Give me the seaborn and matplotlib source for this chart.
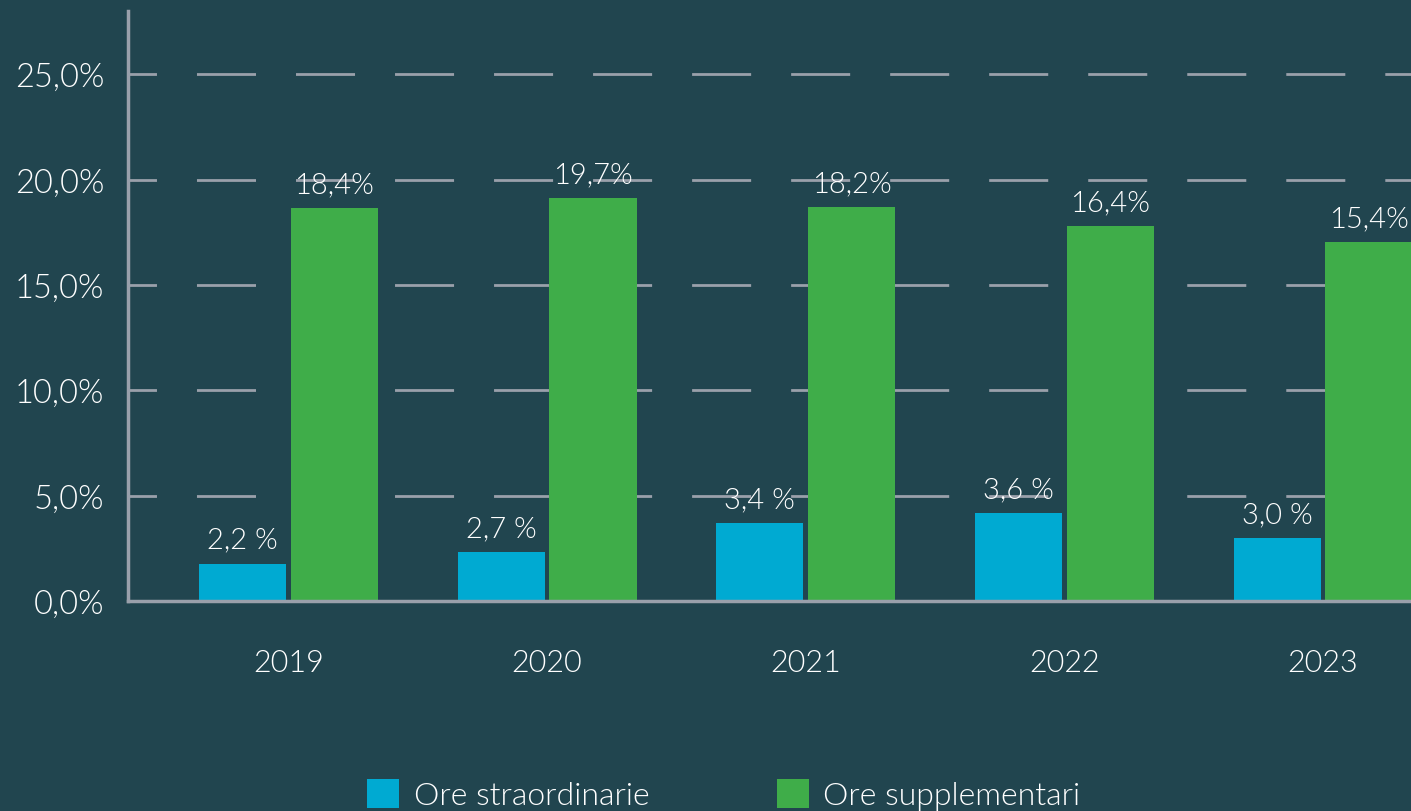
import numpy as np
import pandas as pd
import matplotlib
matplotlib.use("Agg")
import matplotlib.pyplot as plt
import seaborn as sns
from matplotlib.patches import Patch

# dati
anni = ["2019", "2020", "2021", "2022", "2023"]
serie = ["Ore straordinarie", "Ore supplementari"]
straordinarie = [1.76, 2.32, 3.70, 4.17, 2.99]
supplementari = [18.64, 19.12, 18.69, 17.79, 17.03]
etichette_straord = ["2,2 %", "2,7 %", "3,4 %", "3,6 %", "3,0 %"]
etichette_suppl = ["18,4%", "19,7%", "18,2%", "16,4%", "15,4%"]
yticks = [0, 5, 10, 15, 20, 25]

bg = "#21454f"
grigio = "#9aa0ab"
colori = ["#00aad2", "#3fad49"]

df = pd.DataFrame({
    "anno": anni * 2,
    "serie": [serie[0]] * len(anni) + [serie[1]] * len(anni),
    "valore": straordinarie + supplementari,
})

sns.set_theme(style="white")
plt.rcParams["font.family"] = ["Lato", "DejaVu Sans"]
plt.rcParams["font.weight"] = 300
plt.rcParams["lines.scale_dashes"] = False

fig = plt.figure(figsize=(14.11, 8.12), dpi=100, facecolor=bg)
ax = fig.add_axes([128 / 1411, 1 - 602 / 812, 1 - 128 / 1411, (602 - 12) / 812])
ax.set_facecolor(bg)

sns.barplot(data=df, x="anno", y="valore", hue="serie", palette=colori,
            width=0.71, gap=0.05, saturation=1, legend=False, ax=ax,
            linewidth=0, edgecolor="none", zorder=3)

ax.set_ylim(0, 28)
ax.set_xlim(-0.62, 4.34)
ax.set_yticks(yticks)
ax.set_yticklabels([f"{v:.1f}%".replace(".", ",") for v in yticks])
ax.set_xlabel("")
ax.set_ylabel("")

# griglia tratteggiata
for v in yticks[1:]:
    ax.axhline(v, color=grigio, lw=2, linestyle=(22, (42.5, 28.8)), zorder=1)

for s in ["top", "right"]:
    ax.spines[s].set_visible(False)
for s in ["left", "bottom"]:
    ax.spines[s].set_color(grigio)
    ax.spines[s].set_linewidth(2.5)
    ax.spines[s].set_zorder(4)

ax.tick_params(axis="y", length=0, pad=17, labelsize=23.5, labelcolor="white")
ax.tick_params(axis="x", length=0, pad=34, labelsize=22, labelcolor="white")

# etichette sopra le barre
for cont, etich in zip(ax.containers, [etichette_straord, etichette_suppl]):
    ax.bar_label(cont, labels=etich, padding=8, color="white", fontsize=21)

handles = [Patch(facecolor=c, edgecolor="none") for c in colori]
fig.legend(handles, serie, loc="upper center", bbox_to_anchor=(0.513, 1 - 764 / 812),
           ncol=2, frameon=False, fontsize=23, labelcolor="white",
           handlelength=1.0, handleheight=1.0, handletextpad=0.45,
           columnspacing=4.0, borderpad=0)

fig.savefig("out.png", dpi=100, facecolor=bg)
